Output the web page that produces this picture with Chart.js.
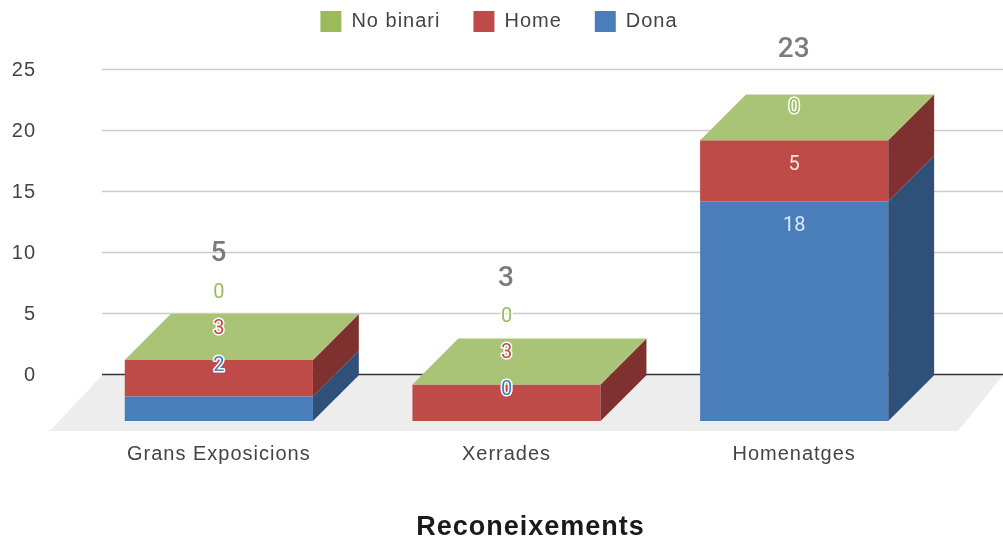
<!DOCTYPE html>
<html>
<head>
<meta charset="utf-8">
<style>
  html, body { margin: 0; padding: 0; background: #fff; overflow: hidden; }
  canvas { display: block; }
</style>
<script src="https://cdn.jsdelivr.net/npm/chart.js@4"></script>
</head>
<body>
<canvas id="chart" width="1003" height="543"></canvas>
<script>
const categories = ['Grans Exposicions', 'Xerrades', 'Homenatges'];
const dona = [2, 0, 18];
const home = [3, 3, 5];
const noBinari = [0, 0, 0];
const totals = [5, 3, 23];
const yTicks = [0, 5, 10, 15, 20, 25];

const yMax = 25;
const depthUnits = 3.76; // how far the back wall sits behind the front faces, in axis units

const sideColors = ['#2f5079', '#7f312f', '#6f8a3d'];
const topColor = '#a9c476';

// gap between top of the bar segment and its label, Sheets doesn't follow a clean rule here
const labelLift = [[31, 31, 67], [31, 31, 67], [-25, -25, 32]];
const totalLift = [106, 105, 90];

const box3d = {
    id: 'box3d',
    beforeLayout(chart) {
        chart.ctx.letterSpacing = '1px';
    },
    afterLayout(chart) {
        chart.legend.top -= 28;
        chart.legend.left += 60;
        chart.titleBlock.left += 123;
    },
    beforeDraw(chart) {
        chart.ctx.letterSpacing = '1px';
    },
    beforeDatasetsDraw(chart) {
        const ctx = chart.ctx;
        const y = chart.scales.y;
        const zero = y.getPixelForValue(0);
        const left = 102, right = 1003;

        ctx.save();
        ctx.fillStyle = '#ededed';
        ctx.beginPath();
        ctx.moveTo(left, zero);
        ctx.lineTo(right, zero);
        ctx.lineTo(958, 431);
        ctx.lineTo(50, 431);
        ctx.closePath();
        ctx.fill();

        yTicks.forEach(t => {
            const py = Math.round(y.getPixelForValue(t)) - 0.5;
            ctx.strokeStyle = t === 0 ? '#333333' : '#cccccc';
            ctx.lineWidth = t === 0 ? 1.5 : 1.3;
            ctx.beginPath();
            ctx.moveTo(left, py);
            ctx.lineTo(right, py);
            ctx.stroke();
        });
        ctx.restore();
    },
    afterDatasetsDraw(chart) {
        const ctx = chart.ctx;
        const depth = chart.scales.yFront.getPixelForValue(0) - chart.scales.y.getPixelForValue(0);
        const metas = chart.data.datasets.map((d, i) => chart.getDatasetMeta(i));

        ctx.save();
        categories.forEach((c, i) => {
            metas.forEach((meta, s) => {
                const bar = meta.data[i].getProps(['x', 'y', 'base', 'width'], true);
                const xr = bar.x + bar.width / 2;
                ctx.fillStyle = sideColors[s];
                ctx.beginPath();
                ctx.moveTo(xr, bar.base);
                ctx.lineTo(xr + depth, bar.base - depth);
                ctx.lineTo(xr + depth, bar.y - depth);
                ctx.lineTo(xr, bar.y);
                ctx.closePath();
                ctx.fill();
            });

            const topBar = metas[metas.length - 1].data[i].getProps(['x', 'y', 'width'], true);
            const xl = topBar.x - topBar.width / 2;
            ctx.fillStyle = topColor;
            ctx.beginPath();
            ctx.moveTo(xl, topBar.y);
            ctx.lineTo(xl + topBar.width, topBar.y);
            ctx.lineTo(xl + topBar.width + depth, topBar.y - depth);
            ctx.lineTo(xl + depth, topBar.y - depth);
            ctx.closePath();
            ctx.fill();
        });

        ctx.textAlign = 'center';
        ctx.textBaseline = 'middle';
        ctx.lineJoin = 'round';
        ctx.letterSpacing = '0px';
        ctx.font = '20px Roboto';
        categories.forEach((c, i) => {
            metas.forEach((meta, s) => {
                const ds = chart.data.datasets[s];
                const bar = meta.data[i].getProps(['x', 'y'], true);
                const ly = bar.y - labelLift[i][s];
                const v = ds.data[i];
                if (v > 3) {
                    ctx.fillStyle = ds.labelTint;
                } else {
                    ctx.strokeStyle = '#ffffff';
                    ctx.lineWidth = 3;
                    ctx.strokeText(v, bar.x, ly);
                    ctx.fillStyle = ds.backgroundColor;
                }
                ctx.fillText(v, bar.x, ly);
            });
        });

        ctx.font = '500 28px Roboto';
        ctx.fillStyle = '#7b7b7b';
        categories.forEach((c, i) => {
            const bar = metas[metas.length - 1].data[i].getProps(['x', 'y'], true);
            ctx.fillText(totals[i], bar.x - 0.5, bar.y - totalLift[i]);
        });
        ctx.restore();
    }
};

new Chart(document.getElementById('chart'), {
    type: 'bar',
    data: {
        labels: categories,
        datasets: [
            { label: 'Dona', data: dona, backgroundColor: '#4a7ebb', labelTint: '#dce9f8', yAxisID: 'yFront', stack: 'a' },
            { label: 'Home', data: home, backgroundColor: '#be4b48', labelTint: '#fbe4e3', yAxisID: 'yFront', stack: 'a' },
            { label: 'No binari', data: noBinari, backgroundColor: '#9bbb59', labelTint: '#ffffff', yAxisID: 'yFront', stack: 'a' }
        ]
    },
    plugins: [box3d],
    options: {
        responsive: false,
        animation: false,
        events: [],
        borderWidth: 0,
        barPercentage: 0.654,
        categoryPercentage: 1,
        layout: { padding: { top: 6, right: 65, bottom: 0, left: 0 } },
        scales: {
            x: {
                stacked: true,
                grid: { display: false },
                border: { display: false },
                ticks: { color: '#444444', font: { family: 'Liberation Sans', size: 20 }, padding: 13, maxRotation: 0 },
                afterFit: s => { s.height = 92; }
            },
            y: {
                min: -depthUnits,
                max: yMax,
                grid: { display: false },
                border: { display: false },
                afterBuildTicks: s => { s.ticks = yTicks.map(value => ({ value })); },
                ticks: { color: '#444444', font: { family: 'Liberation Sans', size: 20 }, padding: 31 },
                afterFit: s => { s.width = 75; }
            },
            yFront: {
                display: false,
                stacked: true,
                min: 0,
                max: yMax + depthUnits
            }
        },
        plugins: {
            tooltip: { enabled: false },
            legend: {
                position: 'top',
                reverse: true,
                labels: {
                    boxWidth: 21,
                    boxHeight: 21,
                    padding: 33,
                    color: '#444444',
                    font: { family: 'Liberation Sans', size: 20 }
                }
            },
            title: {
                display: true,
                text: 'Reconeixements',
                position: 'bottom',
                color: '#1a1a1a',
                padding: 0,
                font: { family: 'Liberation Sans', size: 27, weight: 'bold', lineHeight: 1.11 }
            }
        }
    }
});
</script>
</body>
</html>
